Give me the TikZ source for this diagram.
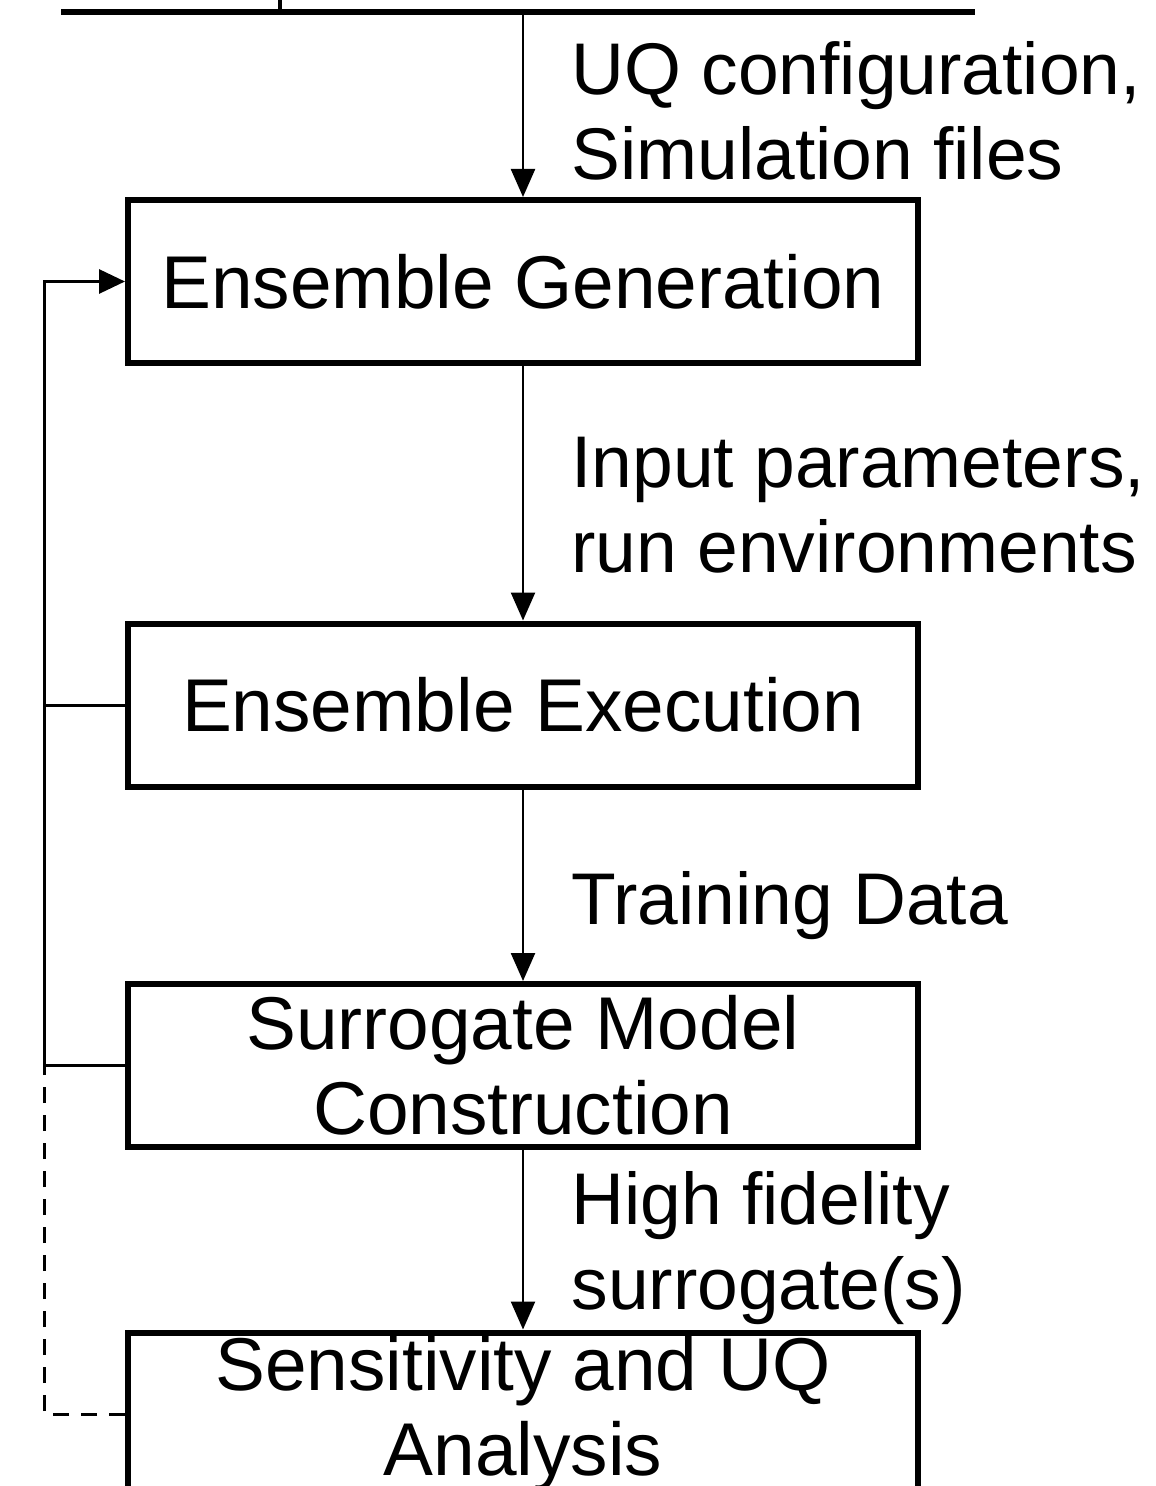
\documentclass[tikz,border=0pt]{standalone}
\usepackage{fontspec}
\setmainfont{Liberation Sans}
\usetikzlibrary{arrows.meta}

\begin{document}
\begin{tikzpicture}[x=0.5pt, y=-0.5pt]
                \tikzstyle{stage} = [draw, line width=3pt, minimum width=395pt, minimum height=81.5pt, inner sep=0pt, align=center, font=\fontsize{37.4}{42.5}\selectfont]
                \tikzstyle{flow} = [line width=1.2pt, -{Triangle[width=12pt, length=14pt]}]
                \tikzstyle{loop} = [line width=1.5pt]
                \tikzstyle{note} = [anchor=north west, inner sep=0pt, align=left, font=\fontsize{36.6}{42.5}\selectfont]
                \useasboundingbox (0, 0) rectangle (1155, 1486);
                % top rule of the tool table
                \coordinate (ruleL) at (61, 12);
                \coordinate (ruleR) at (975, 12);
                \coordinate (divtop) at (280, -20);
                \draw[line width=3pt] (ruleL) -- (ruleR);
                \draw[line width=2pt] (divtop) -- (divtop |- ruleL);
                % stages
                \node[stage] (gen) at (523, 281.5) {Ensemble Generation};
                \node[stage] (exe) at (523, 705) {Ensemble Execution};
                \node[stage] (sur) at (523, 1065.5) {Surrogate Model\\Construction};
                \node[stage] (sen) at (523, 1414) {Sensitivity and UQ\\Analysis};
                % forward flow
                \draw[flow] (gen.north |- ruleL) -- (gen.north);
                \draw[flow] (gen.south) -- (exe.north);
                \draw[flow] (exe.south) -- (sur.north);
                \draw[flow] (sur.south) -- (sen.north);
                \node[note] (n1) at (571, 41) {UQ configuration,\\Simulation files};
                \node[note] (n2) at (571, 437) {Input parameters,\\run environments};
                \node[note] (n3) at (571, 871) {Training Data};
                \node[note] (n4) at (571, 1171) {High fidelity\\surrogate(s)};
                % feedback
                \coordinate (rail) at (44, 0);
                \draw[loop, -{Triangle[width=12pt, length=13pt]}] (sur.west -| rail) -- (gen.west -| rail) -- (gen.west);
                \draw[loop] (exe.west) -- (exe.west -| rail);
                \draw[loop] (sur.west) -- (sur.west -| rail);
                \draw[loop, dash pattern=on 8pt off 6pt] (sen.west) -- (sen.west -| rail) -- (sur.west -| rail);
            \end{tikzpicture}
\end{document}
